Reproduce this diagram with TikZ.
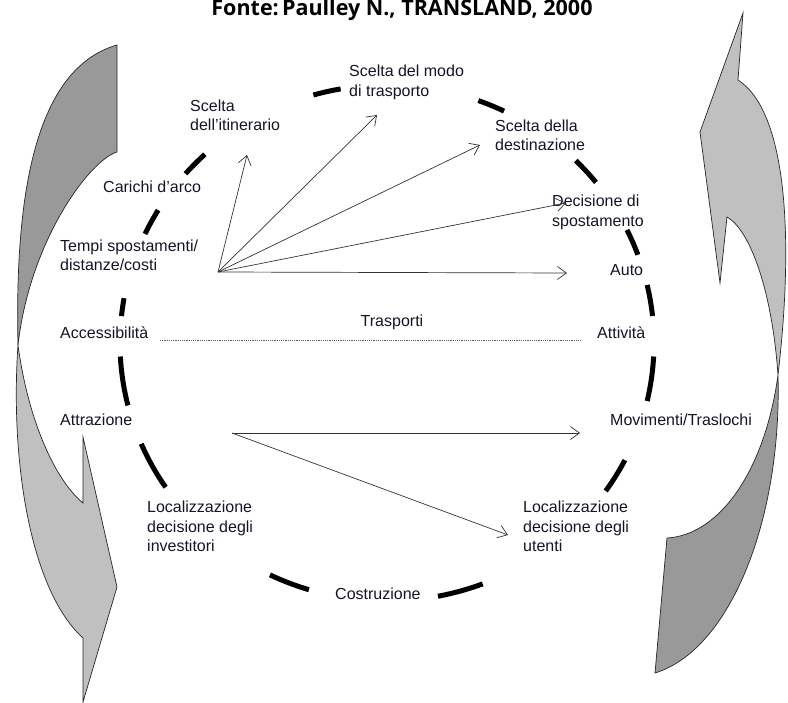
\documentclass[tikz,border=0pt]{standalone}
\usepackage{fontspec}
\setmainfont{Liberation Sans}
\newfontfamily\titlefont{Open Sans}
\usetikzlibrary{arrows.meta}
\definecolor{ribbondark}{HTML}{999999}
\definecolor{ribbonlight}{HTML}{C0C0C0}
\definecolor{inktext}{HTML}{141428}

\begin{document}
\begin{tikzpicture}[x=1pt,y=-1pt,
  lbl/.style={anchor=west,align=left,inner sep=0pt,text=inktext,
              font=\fontsize{16}{19.3}\selectfont},
  ring/.style={line width=5pt,black},
  link/.style={draw=black!80,line width=0.7pt,
               -{Straight Barb[length=9pt,width=13pt,line width=0.7pt]}},
  ribbon/.style={draw=black!85,line width=0.7pt},
  dotline/.style={draw=black!65,line width=0.6pt,dash pattern=on 1.2pt off 1pt}]
\useasboundingbox (0,0) rectangle (788,703);

% twisted ribbon arrow, left side (pointing down)
\draw[ribbon,fill=ribbondark] (117,45) -- (117,152)
  .. controls (90,160) and (30,240) .. (18,345)
  .. controls (15,210) and (30,70) .. (117,45) -- cycle;
\draw[ribbon,fill=ribbonlight] (18,345)
  .. controls (10,460) and (30,590) .. (83,638)
  -- (83,702) -- (117,587) -- (83,437) -- (83,503)
  .. controls (55,480) and (28,420) .. (18,345) -- cycle;

% twisted ribbon arrow, right side (pointing up)
\draw[ribbon,fill=ribbonlight] (743,13) -- (738,80)
  .. controls (785,110) and (795,230) .. (778,375)
  .. controls (772,290) and (750,230) .. (727,217)
  -- (720,283) -- (700,132) -- cycle;
\draw[ribbon,fill=ribbondark] (778,375)
  .. controls (765,470) and (720,535) .. (667,538)
  -- (655,673)
  .. controls (730,650) and (782,520) .. (778,375) -- cycle;

% dashed ring of the land-use / transport cycle
\foreach \a/\b in {-106/-100,-70/-64,-45/-38.5,-26/-20,-13/-6,3/13,27/35,
                   69/79,107/116,146/157,166/177,186/190,205/211,221/227}
  \draw[ring] plot[domain=\a:\b,samples=12,smooth]
    ({387+267*cos(\x)},{343+258*sin(\x)});

% title
\node[font=\titlefont\bfseries\fontsize{21.5}{25}\selectfont,anchor=base,inner sep=0pt]
  (title) at (402,16) {Fonte:\hspace{0.15em}Paulley N., TRANSLAND, 2000};

% labels around the ring
\node[lbl] (modo)   at (349,82.5) {Scelta del modo\\di trasporto};
\node[lbl] (itin)   at (190,115)  {Scelta\\dell'itinerario};
\node[lbl] (dest)   at (495,135)  {Scelta della\\destinazione};
\node[lbl] (carichi) at (103,187) {Carichi d'arco};
\node[lbl] (decis)  at (552,212.5){Decisione di\\spostamento};
\node[lbl] (tempi)  at (60,255)   {Tempi spostamenti/\\distanze/costi};
\node[lbl] (auto)   at (610,270)  {Auto};
\node[lbl,anchor=center] (trasp) at (392,322) {Trasporti};
\node[lbl] (access) at (60,333)   {Accessibilità};
\node[lbl] (attiv)  at (597,333)  {Attività};
\node[lbl] (attr)   at (60,420)   {Attrazione};
\node[lbl] (mov)    at (610,420)  {Movimenti/Traslochi};
\node[lbl] (locinv) at (147,526.5){Localizzazione\\decisione degli\\investitori};
\node[lbl] (locute) at (523,526.5){Localizzazione\\decisione degli\\utenti};
\node[lbl] (costr)  at (335,594)  {Costruzione};

% arrow end points
\coordinate (fan)      at (218,272);
\coordinate (toItin)   at (247,155);
\coordinate (toModo)   at (377,115);
\coordinate (toDest)   at (480,145);
\coordinate (toDecis)  at (566,203);
\coordinate (toAuto)   at (567,273);
\coordinate (fromAttr) at (232,433);
\coordinate (toMov)    at (580,433);
\coordinate (toLoc)    at (508,535);
\coordinate (dotL)     at (160,340);
\coordinate (dotR)     at (582,340);

% fan of transport effects
\foreach \t in {toItin,toModo,toDest,toDecis,toAuto}
  \draw[link] (fan) -- (\t);

% land-use effects of attraction
\draw[link] (fromAttr) -- (toMov);
\draw[link] (fromAttr) -- (toLoc);

% divide between transport and activities
\draw[dotline] (dotL) -- (dotR);
\end{tikzpicture}
\end{document}
